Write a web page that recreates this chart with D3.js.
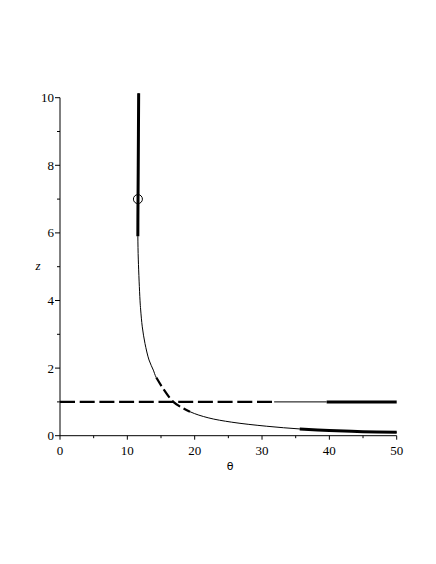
<!DOCTYPE html>
<meta charset="utf-8">
<style>
    body { margin: 0; background: #fff; }
    .axis line { stroke: #000; }
</style>
<body>
<script src="https://d3js.org/d3.v7.min.js"></script>
<script>
    // curve z(theta)
    var thetaVals = [11.68, 11.62, 11.57, 11.56, 11.63, 11.88, 11.98, 12.22, 12.62, 13.22, 13.86, 14.3, 16.83, 19.3, 22, 25.5, 30.7, 35.6, 40, 45, 50];
    var zVals     = [10.13, 8.0,  6.5,   5.9,   5.2,   4.01,  3.72,  3.22,  2.73,  2.24,  1.94,  1.72, 1.0,   0.71, 0.53, 0.40, 0.28, 0.20, 0.155, 0.12, 0.10];

    // styled pieces of the curve, as index ranges into the arrays above
    var curveThick = [[0, 3], [17, 20]];
    var curveDashed = [[11, 13]];

    // the line z = 1
    var levelZ = 1;
    var levelDashed = [0, 31.8];
    var levelThin = [31.8, 39.6];
    var levelThick = [39.6, 50];

    // marked point
    var markTheta = 11.57, markZ = 7;

    var xTicks = [0, 10, 20, 30, 40, 50];
    var xMinor = [5, 15, 25, 35, 45];
    var yTicks = [0, 2, 4, 6, 8, 10];
    var yMinor = [1, 3, 5, 7, 9];

    var serif = "'Liberation Serif', 'DejaVu Serif', serif";
    var width = 436, height = 564;

    var x = d3.scaleLinear().domain([0, 50]).range([60, 396.7]);
    var y = d3.scaleLinear().domain([0, 10]).range([435.7, 97.7]);

    var svg = d3.select("body").append("svg")
        .attr("width", width)
        .attr("height", height);

    var pts = thetaVals.map(function (t, i) { return [t, zVals[i]]; });

    var line = d3.line()
        .x(function (d) { return x(d[0]); })
        .y(function (d) { return y(d[1]); })
        .curve(d3.curveCatmullRom.alpha(0.5));

    // axes
    var xAxis = svg.append("g").attr("class", "axis")
        .attr("transform", "translate(0," + y(0) + ")");
    xAxis.append("line").attr("x1", x(0)).attr("x2", x(50));
    xAxis.selectAll(".maj").data(xTicks).enter().append("line")
        .attr("x1", x).attr("x2", x).attr("y1", 0).attr("y2", 4);
    xAxis.selectAll(".min").data(xMinor).enter().append("line")
        .attr("x1", x).attr("x2", x).attr("y1", 0).attr("y2", 2.5);
    xAxis.selectAll("text").data(xTicks).enter().append("text")
        .attr("x", x).attr("y", 19).attr("text-anchor", "middle")
        .style("font-family", serif).style("font-size", "13px").style("fill", "#000")
        .text(function (d) { return d; });

    var yAxis = svg.append("g").attr("class", "axis")
        .attr("transform", "translate(" + x(0) + ",0)");
    yAxis.append("line").attr("y1", y(0)).attr("y2", y(10));
    yAxis.selectAll(".maj").data(yTicks).enter().append("line")
        .attr("y1", y).attr("y2", y).attr("x1", 0).attr("x2", -5);
    yAxis.selectAll(".min").data(yMinor).enter().append("line")
        .attr("y1", y).attr("y2", y).attr("x1", 0).attr("x2", -3);
    yAxis.selectAll("text").data(yTicks).enter().append("text")
        .attr("x", -6).attr("y", function (d) { return y(d) + 4.5; })
        .attr("text-anchor", "end")
        .style("font-family", serif).style("font-size", "13px").style("fill", "#000")
        .text(function (d) { return d; });

    svg.append("text").attr("x", 230).attr("y", 470).attr("text-anchor", "middle")
        .style("font-family", "'DejaVu Sans', sans-serif").style("font-size", "11px")
        .text("θ");
    svg.append("text").attr("x", 38).attr("y", 270).attr("text-anchor", "middle")
        .style("font-family", serif).style("font-style", "italic").style("font-size", "13px")
        .text("z");

    // thin full curve
    svg.append("path").attr("d", line(pts))
        .attr("fill", "none").attr("stroke", "#000").attr("stroke-width", 1);

    curveThick.forEach(function (r) {
        svg.append("path").attr("d", line(pts.slice(r[0], r[1] + 1)))
            .attr("fill", "none").attr("stroke", "#000").attr("stroke-width", 3);
    });
    // white under the dashed piece so its gaps read as gaps
    curveDashed.forEach(function (r) {
        var d = line(pts.slice(r[0], r[1] + 1));
        svg.append("path").attr("d", d)
            .attr("fill", "none").attr("stroke", "#fff").attr("stroke-width", 3);
        svg.append("path").attr("d", d)
            .attr("fill", "none").attr("stroke", "#000").attr("stroke-width", 2.2)
            .attr("stroke-dasharray", "10,4");
    });

    // level line pieces
    svg.append("line").attr("x1", x(levelDashed[0])).attr("x2", x(levelDashed[1]))
        .attr("y1", y(levelZ)).attr("y2", y(levelZ))
        .attr("stroke", "#000").attr("stroke-width", 2.2).attr("stroke-dasharray", "15,4.7");
    svg.append("line").attr("x1", x(levelThin[0])).attr("x2", x(levelThin[1]))
        .attr("y1", y(levelZ)).attr("y2", y(levelZ))
        .attr("stroke", "#000").attr("stroke-width", 1);
    svg.append("line").attr("x1", x(levelThick[0])).attr("x2", x(levelThick[1]))
        .attr("y1", y(levelZ)).attr("y2", y(levelZ))
        .attr("stroke", "#000").attr("stroke-width", 3);

    svg.append("circle").attr("cx", x(markTheta)).attr("cy", y(markZ)).attr("r", 4.5)
        .attr("fill", "none").attr("stroke", "#000").attr("stroke-width", 1);
</script>
</body>
